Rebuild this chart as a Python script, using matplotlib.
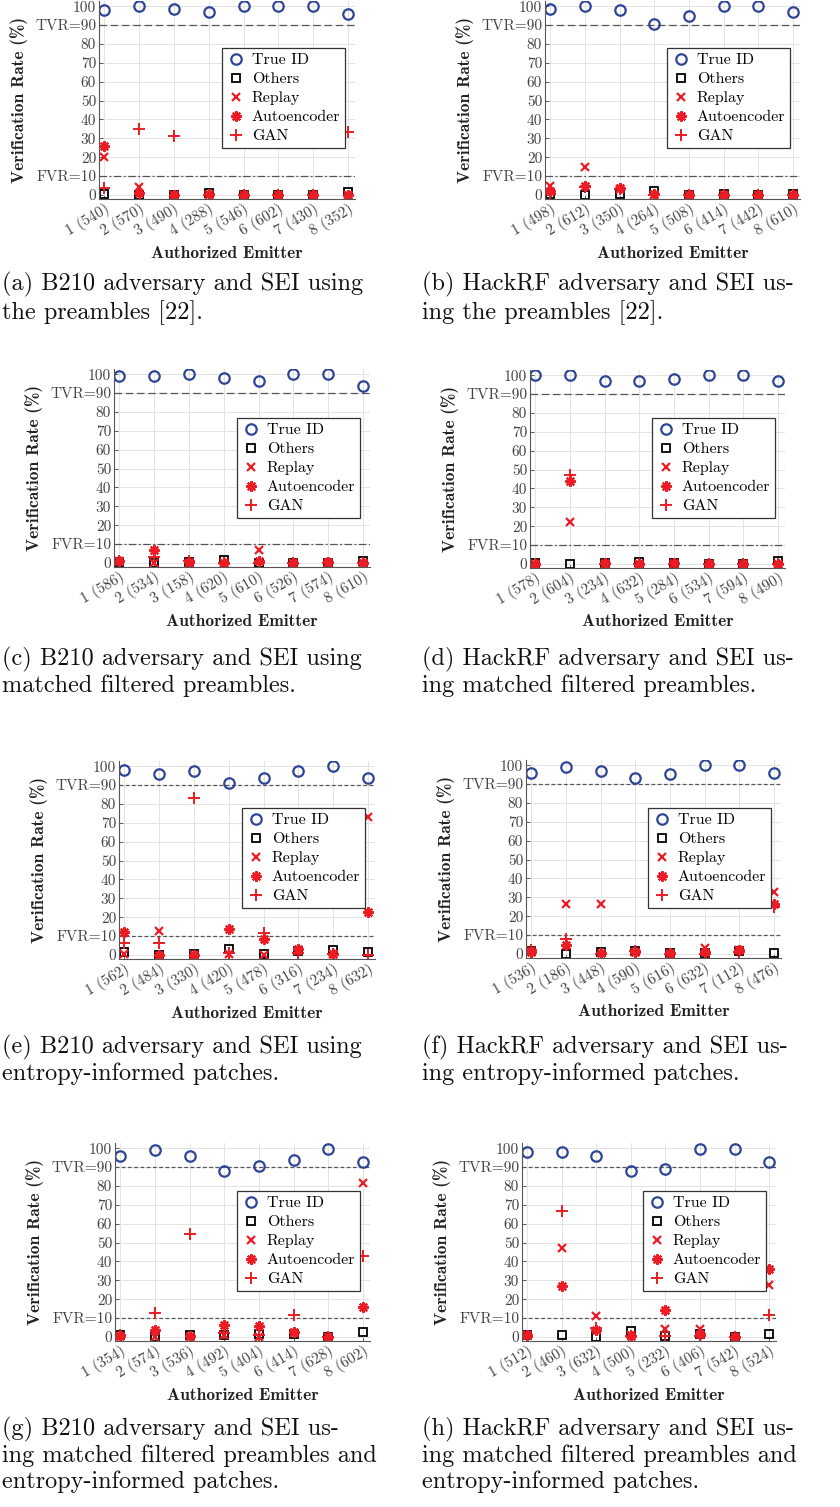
import matplotlib.pyplot as plt
import numpy as np

plt.rcParams['font.family'] = ['cmr10', 'DejaVu Serif']
plt.rcParams['axes.unicode_minus'] = False

# ---- data (verification rate in %, one value per authorized emitter) ----
a_labels = [540, 570, 490, 288, 546, 602, 430, 352]
a_true = [97.8, 100, 98.7, 96.7, 100, 100, 100, 96]
a_others = [0.5, 0, 0, 1.2, 0, 0, 0, 1.5]
a_replay = [20, 4.4, 0, 0, 0, 0, 0, 0]
a_ae = [26, 1, 0, 0.5, 0, 0, 0, 0]
a_gan = [3.9, 35, 31, 0, 0, 0, 0, 33.5]

b_labels = [498, 612, 350, 264, 508, 414, 442, 610]
b_true = [98.7, 100, 97.8, 90.7, 95, 100, 100, 96.7]
b_others = [0.5, 0, 0.5, 2.3, 0, 0.5, 0, 0.5]
b_replay = [5, 15, 3, 0, 0, 0, 0, 0]
b_ae = [2, 5, 3.5, 0.5, 0, 0, 0, 0]
b_gan = [0.5, 4.5, 3, 0, 0, 0, 0, 0]

c_labels = [586, 534, 158, 620, 610, 526, 574, 610]
c_true = [99, 99, 100, 97.8, 96.5, 100, 100, 94]
c_others = [0.5, 0, 0.5, 1.5, 0, 0, 0, 1]
c_replay = [1, 0, 0, 0, 6.8, 0, 0, 0]
c_ae = [1, 6.8, 0.5, 0, 1, 0, 0.5, 0]
c_gan = [1, 3, 1, 0, 0, 0, 0, 0]

d_labels = [578, 604, 234, 632, 284, 534, 594, 490]
d_true = [100, 100, 96.7, 96.7, 97.8, 100, 100, 96.7]
d_others = [0.5, 0, 0.5, 1, 0.5, 0, 0, 1.5]
d_replay = [0, 22.5, 0, 0, 0, 0, 0, 0]
d_ae = [0, 44, 0.5, 0, 0.5, 0, 0, 0]
d_gan = [0, 47, 0, 0, 0, 0, 0, 0]

e_labels = [562, 484, 330, 420, 478, 316, 234, 632]
e_true = [98.2, 96, 97.3, 91, 94, 97.3, 100, 94]
e_others = [1.8, 0, 0.5, 3.2, 0.5, 2, 2.7, 1.6]
e_replay = [0.5, 12.8, 0, 0.5, 0, 2, 0.5, 73]
e_ae = [12, 0, 0, 13.7, 8.3, 3, 0.5, 23]
e_gan = [6.2, 6.6, 83.4, 1, 11.5, 1, 0.5, 0]

f_labels = [536, 186, 448, 590, 616, 632, 112, 476]
f_true = [95.9, 99, 97, 93.2, 95.2, 100, 100, 95.9]
f_others = [1.5, 0, 1, 1.5, 0.5, 0.5, 1.5, 0.5]
f_replay = [1.5, 26.7, 26.4, 1, 0, 3.2, 2, 32.6]
f_ae = [1, 4.6, 0.5, 1, 0.5, 1, 2, 26.4]
f_gan = [2, 7.7, 0, 1.5, 0, 0, 1, 25]

g_labels = [354, 574, 536, 492, 404, 414, 628, 602]
g_true = [95.7, 98.9, 95.7, 88, 90.7, 93.7, 99.7, 92.8]
g_others = [1, 0, 1, 1, 1.5, 1.5, 0, 2.7]
g_replay = [0.5, 0, 0, 1, 0, 2, 0, 81.5]
g_ae = [0.5, 3.5, 0.5, 6.2, 5.7, 2.7, 0, 16]
g_gan = [1, 12.8, 54.4, 2, 1, 11.9, 0, 43]

h_labels = [512, 460, 632, 500, 232, 406, 542, 524]
h_true = [97.8, 97.8, 96, 87.7, 88.8, 99.7, 99.7, 92.7]
h_others = [1, 1.2, 0, 3, 0.5, 1.5, 0, 1.6]
h_replay = [1, 47, 11, 1, 4.4, 4.4, 0, 27.8]
h_ae = [1, 27, 3.9, 0.5, 14.2, 1.5, 0, 35.8]
h_gan = [0, 67, 5, 0.5, 0.5, 0.5, 0, 11.9]

captions = [
    "(a) B210 adversary and SEI using\nthe preambles [22].",
    "(b) HackRF adversary and SEI us-\ning the preambles [22].",
    "(c) B210 adversary and SEI using\nmatched filtered preambles.",
    "(d) HackRF adversary and SEI us-\ning matched filtered preambles.",
    "(e) B210 adversary and SEI using\nentropy-informed patches.",
    "(f) HackRF adversary and SEI us-\ning entropy-informed patches.",
    "(g) B210 adversary and SEI us-\ning matched filtered preambles and\nentropy-informed patches.",
    "(h) HackRF adversary and SEI us-\ning matched filtered preambles and\nentropy-informed patches.",
]

panels = [
    (a_labels, a_true, a_others, a_replay, a_ae, a_gan),
    (b_labels, b_true, b_others, b_replay, b_ae, b_gan),
    (c_labels, c_true, c_others, c_replay, c_ae, c_gan),
    (d_labels, d_true, d_others, d_replay, d_ae, d_gan),
    (e_labels, e_true, e_others, e_replay, e_ae, e_gan),
    (f_labels, f_true, f_others, f_replay, f_ae, f_gan),
    (g_labels, g_true, g_others, g_replay, g_ae, g_gan),
    (h_labels, h_true, h_others, h_replay, h_ae, h_gan),
]

# ---- layout in pixels: axes left, right, y of value 0, legend corner, caption y ----
W, H = 840, 1507
ax_left = [99, 545, 114, 530, 119, 526, 115, 522]
ax_right = [355, 800, 370, 785, 375, 781, 370, 776]
y_zero = [195, 195, 563, 564, 955, 954, 1337, 1337]
leg_xy = [(222, 48), (667, 48), (237, 418), (652, 418),
          (242, 808), (648, 808), (237, 1191), (643, 1191)]
cap_y = [272, 272, 647, 647, 1035, 1035, 1417, 1417]
SCALE = 1.888  # px per percent

BLUE = '#2f4596'
RED = '#ec1c24'
GREY = '#333333'

fig = plt.figure(figsize=(W / 100, H / 100), dpi=100)

for i, (labels, tru, oth, rep, ae, gan) in enumerate(panels):
    top = y_zero[i] - 103 * SCALE
    bot = y_zero[i] + 2 * SCALE
    ax = fig.add_axes([ax_left[i] / W, 1 - bot / H,
                       (ax_right[i] - ax_left[i]) / W, (bot - top) / H])
    x = np.arange(1, 9)

    ax.plot(x, tru, 'o', ms=7.5, mfc='none', mec=BLUE, mew=1.6, label='True ID')
    ax.plot(x, oth, 's', ms=5.5, mfc='none', mec='black', mew=1.3, label='Others')
    ax.plot(x, rep, 'x', ms=5.5, mec=RED, mew=1.6, label='Replay')
    ax.plot(x, ae, marker=(8, 2, 0), ls='none', ms=7.5, mec=RED, mew=1.6,
            label='Autoencoder')
    ax.plot(x, gan, '+', ms=8, mec=RED, mew=1.4, label='GAN')

    if i < 4:
        ax.axhline(90, color='#555555', lw=0.9, ls=(0, (6, 3)), zorder=1)
        ax.axhline(10, color='#555555', lw=0.9, ls=(0, (6, 2, 1.5, 2)), zorder=1)
    else:
        ax.axhline(90, color='#555555', lw=0.9, ls=(0, (3, 2)), zorder=1)
        ax.axhline(10, color='#555555', lw=0.9, ls=(0, (3, 2)), zorder=1)

    ax.set_xlim(0.85, 8.2)
    ax.set_ylim(-2, 103)
    ax.set_xticks(x)
    ax.set_xticklabels([f"{k} ({n})" for k, n in zip(x, labels)],
                       rotation=30, ha='right', rotation_mode='anchor',
                       fontsize=11, color=GREY)
    yt = np.arange(0, 101, 10)
    ylab = [str(v) for v in yt]
    ylab[1] = 'FVR=10'
    ylab[9] = 'TVR=90'
    ax.set_yticks(yt)
    ax.set_yticklabels(ylab, fontsize=11, color=GREY)
    ax.tick_params(direction='in', length=3, width=0.6, colors='#444444', pad=2)
    ax.grid(True, color='#e3e3e3', lw=0.7)
    ax.set_axisbelow(True)
    for s in ['top', 'right']:
        ax.spines[s].set_visible(False)
    for s in ['left', 'bottom']:
        ax.spines[s].set_color('#555555')
        ax.spines[s].set_linewidth(0.8)

    lx, ly = leg_xy[i]
    leg = ax.legend(loc='upper left', bbox_to_anchor=(lx / W, 1 - ly / H),
                    bbox_transform=fig.transFigure, borderaxespad=0,
                    fontsize=11.5, fancybox=False, framealpha=1,
                    edgecolor='#333333', handletextpad=0.45, labelspacing=0.3,
                    borderpad=0.32, handlelength=1.1)
    leg.get_frame().set_linewidth(0.9)

    cx = (ax_left[i] + ax_right[i]) / 2
    fig.text(cx / W, 1 - (y_zero[i] + 58) / H, 'Authorized Emitter',
             family='cmb10', fontsize=12.5, ha='center', va='center', color='#222222')
    fig.text((ax_left[i] - 80) / W, 1 - ((top + bot) / 2) / H, 'Verification Rate (%)',
             family='cmb10', fontsize=12.5, rotation=90, ha='center', va='center',
             color='#222222')

    capx = 2 if i % 2 == 0 else 422
    fig.text(capx / W, 1 - cap_y[i] / H, captions[i], fontsize=17.5,
             ha='left', va='top', linespacing=1.16, color='#111111')

fig.savefig('out.png', dpi=100)
